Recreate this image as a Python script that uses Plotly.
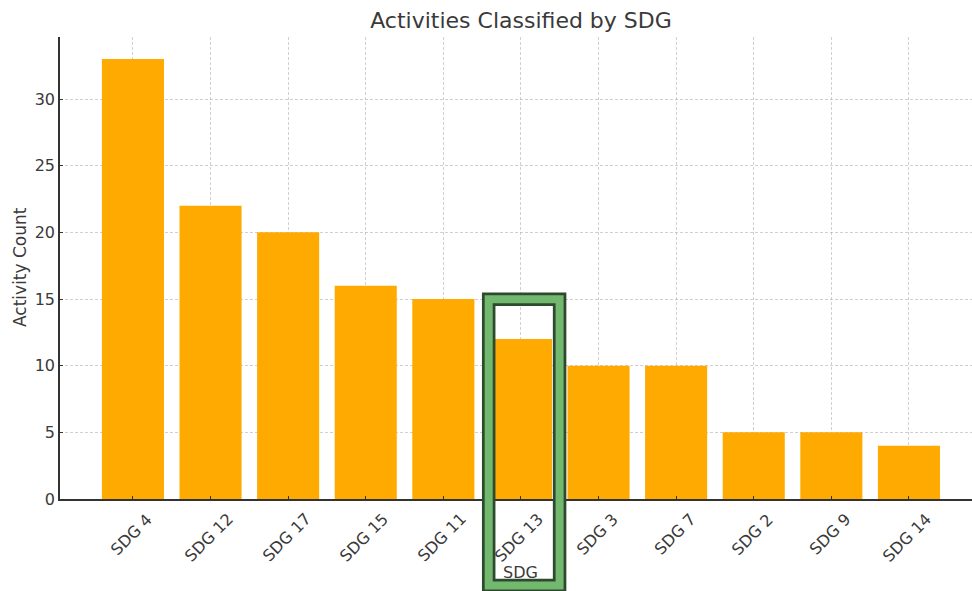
import plotly.graph_objects as go

categories = ["SDG 4", "SDG 12", "SDG 17", "SDG 15", "SDG 11", "SDG 13",
              "SDG 3", "SDG 7", "SDG 2", "SDG 9", "SDG 14"]
counts = [33, 22, 20, 16, 15, 12, 10, 10, 5, 5, 4]
y_ticks = [0, 5, 10, 15, 20, 25, 30]
highlight = "SDG 13"

W, H = 972, 591
L, R, T, B = 60, 0, 37, 92
pw, ph = W - L - R, H - T - B
FONT = "DejaVu Sans"
TXT = "#3a3a3a"

def px_x(p):
    return (p - L) / pw

def px_y(p):
    return (H - B - p) / ph

idx = list(range(len(categories)))

fig = go.Figure()
fig.add_trace(go.Bar(x=idx, y=counts, width=0.8, marker=dict(color="#FFAA00", line=dict(width=0)),
                     showlegend=False))

grid = "rgba(170,170,170,0.55)"
fig.update_layout(
    width=W, height=H,
    margin=dict(l=L, r=R, t=T, b=B),
    paper_bgcolor="white", plot_bgcolor="white",
    font=dict(family=FONT, size=16, color=TXT),
    title=dict(text="Activities Classified by SDG", font=dict(size=22, color=TXT),
               x=px_x(521), xref="paper", xanchor="center",
               y=1 - 20 / H, yref="container", yanchor="middle"),
    xaxis=dict(range=[-0.94, -0.94 + pw / 77.6], tickvals=idx, showticklabels=False,
               showgrid=True, gridcolor=grid, griddash="3px,2px", gridwidth=1,
               showline=True, linecolor="#333", linewidth=1.5,
               ticks="inside", ticklen=3.5, tickcolor="#333", zeroline=False,
               layer="above traces", fixedrange=True),
    yaxis=dict(range=[0, 34.65], tickvals=y_ticks, showgrid=True, gridcolor=grid,
               griddash="3px,2px", gridwidth=1, showline=True, linecolor="#333", linewidth=1.5,
               ticks="inside", ticklen=3.5, tickcolor="#333", zeroline=False,
               tickfont=dict(size=16, color=TXT), layer="above traces", fixedrange=True),
)

annotations = []
for i, c in zip(idx, categories):
    annotations.append(dict(x=i, xref="x", y=px_y(507), yref="paper", text=c, showarrow=False,
                            textangle=-45, xanchor="center", yanchor="top", xshift=-1.5,
                            font=dict(size=16, color=TXT)))
annotations.append(dict(x=px_x(520.5), xref="paper", y=px_y(572), yref="paper", text="SDG",
                        showarrow=False, xanchor="center", yanchor="middle",
                        font=dict(size=16, color=TXT)))
annotations.append(dict(x=px_x(19.5), xref="paper", y=px_y(267.5), yref="paper", text="Activity Count",
                        showarrow=False, textangle=-90, xanchor="center", yanchor="middle",
                        font=dict(size=17, color=TXT)))
fig.update_layout(annotations=annotations)

# highlight box around SDG 13
x0, x1, y0, y1 = px_x(488.7), px_x(559.6), px_y(585.5), px_y(299.3)
fig.add_shape(type="rect", xref="paper", yref="paper", x0=x0, x1=x1, y0=y0, y1=y1,
              line=dict(color="#2e4a2e", width=13.5), fillcolor="rgba(0,0,0,0)", layer="above")
fig.add_shape(type="rect", xref="paper", yref="paper", x0=x0, x1=x1, y0=y0, y1=y1,
              line=dict(color="#72b96f", width=8), fillcolor="rgba(0,0,0,0)", layer="above")

fig.write_html("out.html", config={"displayModeBar": False},
               post_script="document.body.style.margin='0';document.body.style.overflow='hidden';")
